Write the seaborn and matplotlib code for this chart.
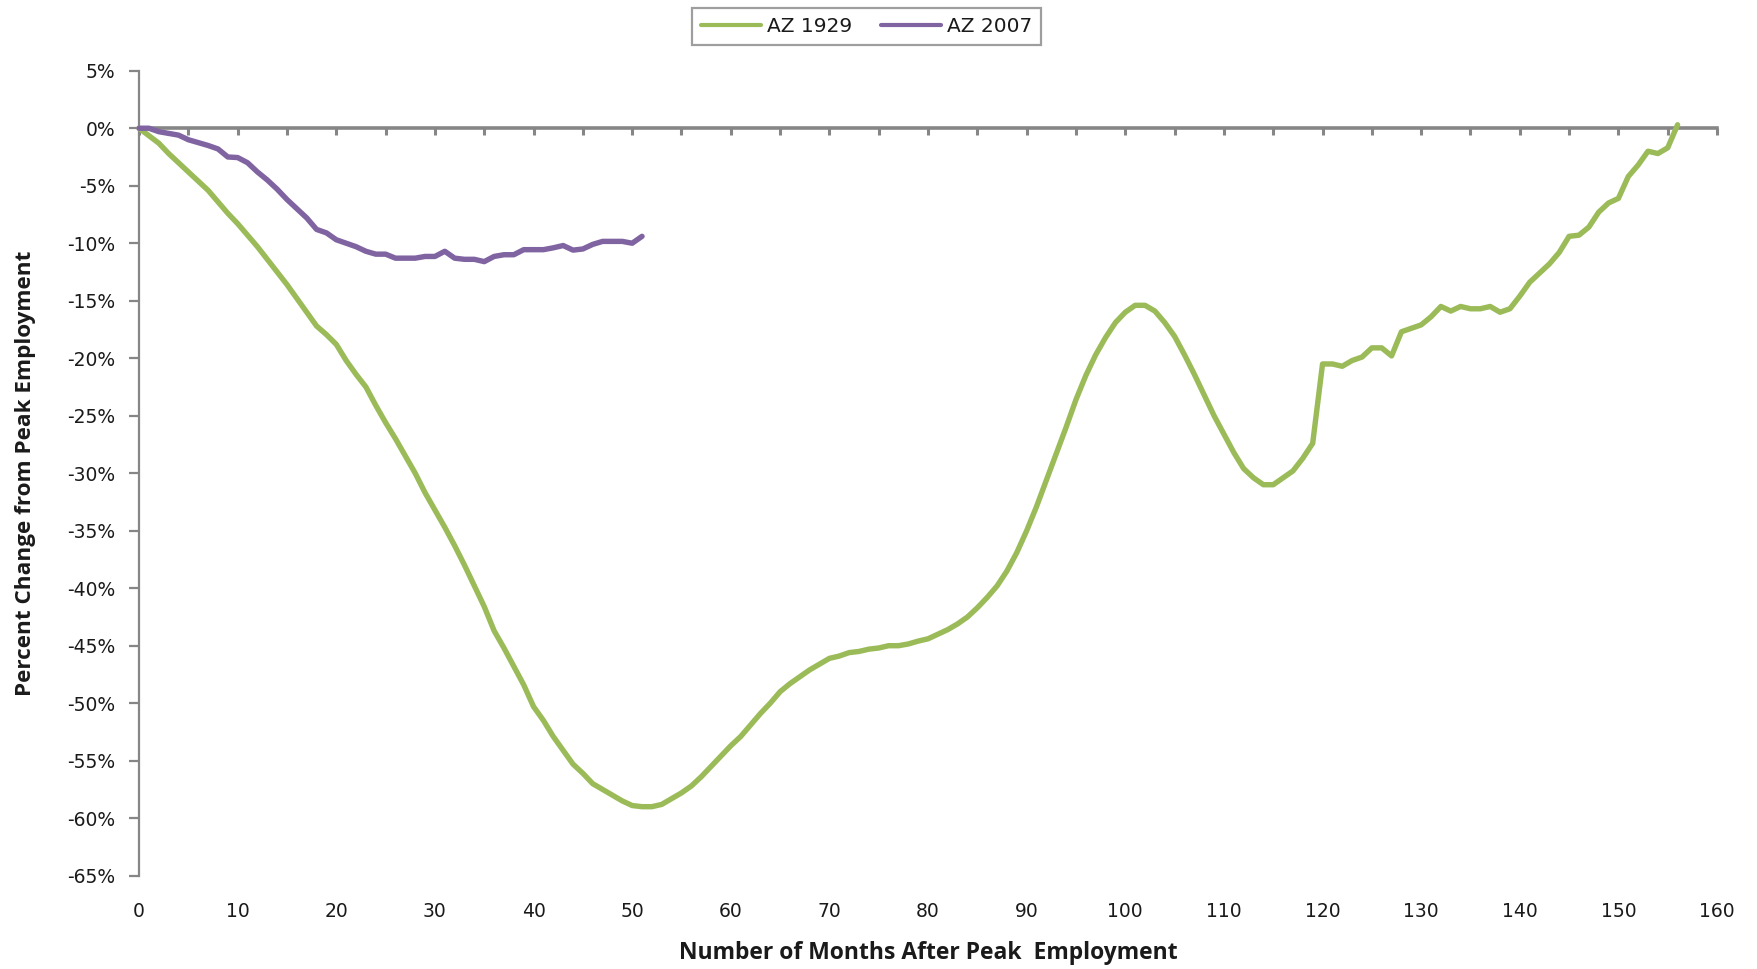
import matplotlib
matplotlib.use("Agg")
import matplotlib.pyplot as plt
from matplotlib.ticker import MultipleLocator, FuncFormatter
import numpy as np
import pandas as pd
import seaborn as sns

# Percent change in employment from the pre-recession peak, by month
months_1929 = list(range(0, 157))
az_1929 = [
    0.0, -0.65, -1.3, -2.2, -3.0, -3.8, -4.6, -5.4, -6.4, -7.4,
    -8.3, -9.3, -10.3, -11.4, -12.5, -13.6, -14.8, -16.0, -17.2, -17.95,
    -18.8, -20.2, -21.4, -22.5, -24.1, -25.6, -27.0, -28.5, -30.0, -31.7,
    -33.2, -34.7, -36.3, -38.0, -39.8, -41.6, -43.7, -45.2, -46.8, -48.4,
    -50.3, -51.5, -52.9, -54.1, -55.3, -56.1, -57.0, -57.5, -58.0, -58.5,
    -58.9, -59.0, -59.0, -58.8, -58.3, -57.8, -57.2, -56.4, -55.5, -54.6,
    -53.7, -52.9, -51.9, -50.9, -50.0, -49.0, -48.3, -47.7, -47.1, -46.6,
    -46.1, -45.9, -45.6, -45.5, -45.3, -45.2, -45.0, -45.0, -44.85, -44.6,
    -44.4, -44.0, -43.6, -43.1, -42.5, -41.7, -40.8, -39.8, -38.5, -36.9,
    -35.0, -32.9, -30.6, -28.3, -26.0, -23.6, -21.5, -19.7, -18.2, -16.9,
    -16.0, -15.4, -15.4, -15.9, -16.9, -18.1, -19.7, -21.4, -23.2, -25.0,
    -26.6, -28.2, -29.6, -30.4, -31.0, -31.0, -30.4, -29.8, -28.7, -27.4,
    -20.5, -20.5, -20.7, -20.2, -19.9, -19.1, -19.1, -19.8, -17.7, -17.4,
    -17.1, -16.4, -15.5, -15.9, -15.5, -15.7, -15.7, -15.5, -16.0, -15.7,
    -14.6, -13.4, -12.6, -11.8, -10.8, -9.4, -9.3, -8.6, -7.3, -6.5,
    -6.1, -4.2, -3.2, -2.0, -2.2, -1.7, 0.3,
]

months_2007 = list(range(0, 52))
az_2007 = [
    0.0, 0.0, -0.3, -0.45, -0.6, -1.0, -1.25, -1.5, -1.8, -2.5,
    -2.55, -3.0, -3.8, -4.5, -5.3, -6.2, -7.0, -7.8, -8.8, -9.1,
    -9.7, -10.0, -10.3, -10.7, -10.95, -10.95, -11.3, -11.3, -11.3, -11.15,
    -11.15, -10.7, -11.3, -11.4, -11.4, -11.6, -11.15, -11.0, -11.0, -10.56,
    -10.56, -10.56, -10.4, -10.2, -10.6, -10.5, -10.1, -9.84, -9.84, -9.84,
    -10.0, -9.4,
]

series_names = ["AZ 1929", "AZ 2007"]
series_colors = ["#9BBB59", "#8064A2"]

x_ticks = list(range(0, 161, 10))
y_ticks = list(range(-65, 6, 5))

df = pd.concat([
    pd.DataFrame({"month": months_1929, "pct": az_1929, "series": series_names[0]}),
    pd.DataFrame({"month": months_2007, "pct": az_2007, "series": series_names[1]}),
], ignore_index=True)

sns.set_theme(style="white")
plt.rcParams["font.family"] = ["DejaVu Sans"]

axis_gray = "#868686"
text_color = "#1a1a1a"
title_family = ["Open Sans", "DejaVu Sans"]

fig = plt.figure(figsize=(17.58, 9.69), dpi=100)
ax = fig.add_axes([0.0791, 0.0963, 0.8976, 0.8307])

sns.lineplot(
    data=df, x="month", y="pct", hue="series",
    palette=dict(zip(series_names, series_colors)),
    estimator=None, sort=False, linewidth=3.9, ax=ax, legend=False,
)
for line in ax.lines:
    line.set_solid_joinstyle("round")
    line.set_solid_capstyle("round")
    line.set_zorder(4)
    line.set_clip_on(False)

ax.set_xlim(0, 160)
ax.set_ylim(-65, 5)
ax.set_xlabel("")
ax.set_ylabel("")

# Spines: left axis and a horizontal axis through zero
for side in ("top", "right"):
    ax.spines[side].set_visible(False)
ax.spines["left"].set_color(axis_gray)
ax.spines["left"].set_linewidth(1.6)
ax.spines["bottom"].set_position(("data", 0))
ax.spines["bottom"].set_color(axis_gray)
ax.spines["bottom"].set_linewidth(2.6)
ax.spines["bottom"].set_zorder(3)

ax.xaxis.set_major_locator(MultipleLocator(5))
ax.tick_params(axis="x", direction="out", length=5, width=2.2, color=axis_gray,
               labelbottom=False, bottom=True)
ax.set_yticks(y_ticks)
ax.yaxis.set_major_formatter(FuncFormatter(lambda v, _: f"{int(round(v))}%"))
ax.tick_params(axis="y", direction="out", length=7, width=1.6, color=axis_gray,
               labelsize=13.5, labelcolor=text_color, pad=10, left=True)

# Month labels along the bottom of the plot
sec = ax.secondary_xaxis(0.0)
sec.set_xticks(x_ticks)
sec.set_xticklabels([str(t) for t in x_ticks])
sec.spines["bottom"].set_visible(False)
sec.tick_params(axis="x", length=0, pad=19, labelsize=13.5, labelcolor=text_color)

fig.text(0.528, 0.0165, "Number of Months After Peak  Employment",
         ha="center", va="center", fontsize=16.5, fontweight="bold",
         family=title_family, color=text_color)
fig.text(0.0145, 0.512, "Percent Change from Peak Employment",
         ha="center", va="center", rotation=90, fontsize=16.2, fontweight="bold",
         family=title_family, color=text_color)

handles = [plt.Line2D([], [], color=c, linewidth=3.0) for c in series_colors]
leg = ax.legend(handles, series_names, loc="center", ncol=2,
                bbox_to_anchor=(0.493, 0.9727), bbox_transform=fig.transFigure,
                frameon=True, fancybox=False, shadow=False, fontsize=14.5,
                handlelength=3.0, handletextpad=0.3, columnspacing=1.4,
                borderpad=0.45, borderaxespad=0)
leg.get_frame().set_edgecolor(axis_gray)
leg.get_frame().set_linewidth(1.6)
for t in leg.get_texts():
    t.set_color(text_color)

fig.savefig("out.png", dpi=100, facecolor="white")
